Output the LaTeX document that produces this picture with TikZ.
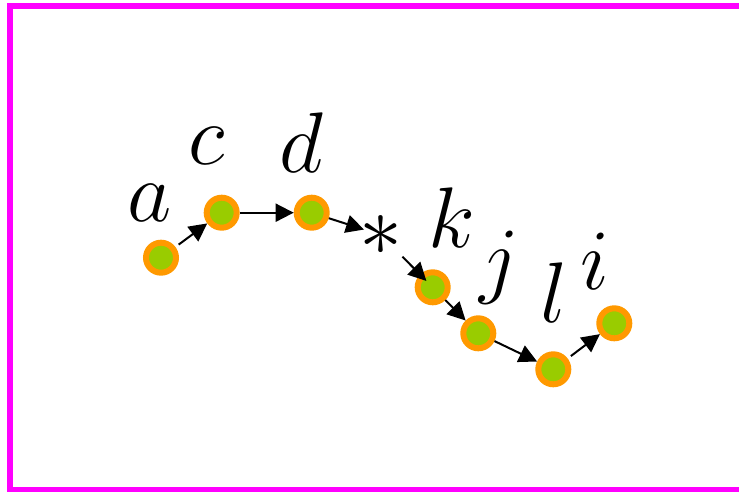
\documentclass[tikz,border=0pt]{standalone}
\usepackage{graphicx}
\usetikzlibrary{arrows.meta}
\definecolor{ringorange}{HTML}{FF9900}
\definecolor{dotgreen}{HTML}{99CC00}
\definecolor{framemag}{HTML}{FF00FF}
\newcommand{\biglbl}[1]{\scalebox{3.457}{\Huge$#1$}}
\tikzset{
  dot/.style={circle, draw=ringorange, fill=dotgreen, line width=6pt, minimum size=30pt, inner sep=0pt},
  lbl/.style={inner sep=0pt},
  conn/.style={line width=2pt, -{Triangle[length=18pt,width=18pt]}}
}
\begin{document}
\begin{tikzpicture}[x=1pt,y=-1pt]
\useasboundingbox (0,0) rectangle (739,492);
\draw[framemag, line width=6pt] (10,6) rectangle (748,489.5);
\node[dot] (a) at (161,257.7) {};
\node[dot] (c) at (221.7,212.7) {};
\node[dot] (d) at (311.7,212.7) {};
\node[dot] (k) at (432.7,287.3) {};
\node[dot] (j) at (478.3,333.3) {};
\node[dot] (l) at (553.3,369.3) {};
\node[dot] (i) at (614.3,323.3) {};
\node[lbl] (la) at (150,203) {\biglbl{a}};
\node[lbl] (lc) at (207,146) {\biglbl{c}};
\node[lbl] (ld) at (301,142.5) {\biglbl{d}};
\node[lbl] (lk) at (452,218) {\biglbl{k}};
\node[lbl] (lj) at (499,268) {\biglbl{j}};
\node[lbl] (ll) at (554,293) {\biglbl{l}};
\node[lbl] (li) at (595,261) {\biglbl{i}};
\node[lbl] (star) at (381,235) {\biglbl{\ast}};
\draw[conn, shorten <=4pt] (a) -- (c);
\draw[conn] (c) -- (d);
\draw[conn, shorten >=-5pt] (d) -- (star);
\draw[conn, shorten >=-9pt, shorten <=2pt] (star) -- (k);
\draw[conn] (k) -- (j);
\draw[conn] (j) -- (l);
\draw[conn, shorten <=4pt] (l) -- (i);
\end{tikzpicture}
\end{document}
